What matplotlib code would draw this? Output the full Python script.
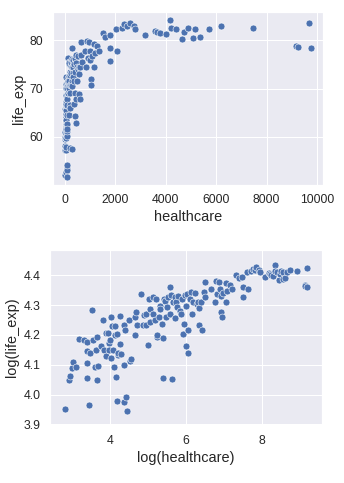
import numpy as np
import matplotlib
matplotlib.use("Agg")
import matplotlib.pyplot as plt
import seaborn as sns

# healthcare spending and life expectancy per country
healthcare = [17, 19, 19.3, 20.3, 21.1, 22.6, 24.3, 27.7, 30.0, 30.0,
              30.3, 30.0, 31.8, 32.8, 34.5, 35.2, 37.0, 37.7, 38.9, 39.3,
              40.0, 43.4, 45.6, 46.5, 48.9, 49.9, 52.5, 54.1, 54.1, 55.7,
              56.3, 56.8, 58.6, 59.1, 60.9, 62.8, 63.4, 64.7, 66.0, 66.7,
              68.0, 68.7, 70.8, 72.2, 73.7, 79.1, 79.1, 79.8, 80.6, 84.8,
              85.6, 90.9, 92.8, 94.6, 105.6, 106.7, 110.0, 112.2, 122.7, 131.6,
              133.0, 141.2, 142.6, 149.9, 152.9, 156.0, 157.6, 170.7, 170.7, 177.7,
              183.1, 186.8, 190.6, 200.3, 202.3, 206.4, 214.9, 219.2, 221.4, 225.9,
              230.5, 237.4, 247.1, 254.7, 265.1, 267.7, 275.9, 278.7, 287.2, 298.9,
              304.8, 314.2, 320.5, 330.3, 343.7, 354.2, 361.4, 376.2, 383.8, 395.4,
              399.4, 407.5, 415.6, 424.0, 424.0, 445.8, 459.4, 468.8, 487.7, 512.7,
              533.7, 555.5, 572.4, 572.4, 595.8, 607.9, 645.4, 658.3, 671.7, 788.2,
              854.0, 879.8, 915.7, 953.2, 982.3, 1002, 1022, 1043, 1075, 1141,
              1165, 1188, 1274, 1366, 1495, 1603, 1772, 1808, 1808, 2059,
              2018, 2250, 2346, 2465, 2567, 2751, 2800, 3198, 3568, 3650,
              3789, 4000, 4188, 4200, 4403, 4629, 4722, 4900, 5100, 5166,
              5378, 5712, 6186, 7479, 9150, 9230, 9700, 9750]
life_exp = [52.1, 57.3, 58.1, 59.6, 61.0, 59.9, 65.8, 65.5, 65.1, 63.1,
            60.6, 57.8, 52.8, 62.7, 72.5, 65.5, 59.8, 63.4, 57.3, 66.2,
            60.0, 64.2, 70.2, 63.4, 67.2, 62.1, 67.2, 64.8, 63.5, 65.5,
            70.9, 61.7, 68.6, 63.5, 59.8, 68.7, 66.6, 58.0, 66.8, 53.5,
            62.3, 62.7, 64.6, 71.1, 62.6, 53.2, 60.2, 68.9, 67.8, 54.2,
            51.7, 70.2, 61.2, 61.6, 66.6, 70.7, 72.1, 69.0, 76.4, 69.0,
            71.3, 71.5, 69.0, 64.5, 75.1, 72.7, 69.6, 75.6, 71.5, 70.2,
            75.2, 66.2, 66.6, 70.7, 73.4, 72.8, 69.1, 57.7, 66.0, 75.1,
            74.7, 70.7, 73.3, 75.6, 71.5, 78.3, 76.2, 57.6, 74.4, 70.5,
            75.6, 74.5, 73.3, 75.9, 72.3, 71.5, 75.1, 66.9, 69.1, 76.2,
            64.3, 73.4, 76.4, 67.8, 62.8, 75.3, 77.0, 71.5, 74.5, 76.8,
            74.0, 74.5, 73.1, 68.9, 74.4, 67.8, 77.0, 79.6, 75.6, 77.7,
            74.5, 79.9, 76.4, 79.6, 77.7, 75.9, 72.0, 70.7, 76.8, 74.5,
            79.3, 77.3, 78.8, 77.7, 81.5, 80.6, 81.0, 78.3, 75.7, 77.7,
            82.4, 82.5, 83.3, 83.0, 83.6, 83.0, 82.3, 81.0, 82.0, 81.7,
            81.5, 81.3, 84.2, 82.6, 82.4, 80.2, 81.7, 82.6, 80.5, 82.4,
            80.6, 82.4, 82.9, 82.5, 78.9, 78.6, 83.5, 78.3]

sns.set_theme(style="darkgrid")
plt.rcParams['font.family'] = ['Liberation Sans', 'DejaVu Sans']
plt.rcParams['xtick.labelsize'] = 12.3
plt.rcParams['ytick.labelsize'] = 12.3
plt.rcParams['axes.labelsize'] = 14.5

h = np.array(healthcare)
le = np.array(life_exp)

fig, (ax1, ax2) = plt.subplots(2, 1, figsize=(344 / 72, 483 / 72), dpi=72)
ax1.set_position([0.154, 0.617, 0.785, 0.358])
ax2.set_position([0.145, 0.120, 0.791, 0.362])

sns.scatterplot(x=h, y=le, ax=ax1, s=48)
ax1.set_xlabel("healthcare")
ax1.set_ylabel("life_exp")

sns.scatterplot(x=np.log(h), y=np.log(le), ax=ax2, s=48)
ax2.set_xlabel("log(healthcare)")
ax2.set_ylabel("log(life_exp)")
ax2.set_xticks([4, 6, 8])
ax2.set_xlim(2.43, 9.57)
ax2.set_yticks([3.9, 4.0, 4.1, 4.2, 4.3, 4.4])
ax2.set_ylim(3.898, 4.484)

fig.savefig("out.png", dpi=72)
